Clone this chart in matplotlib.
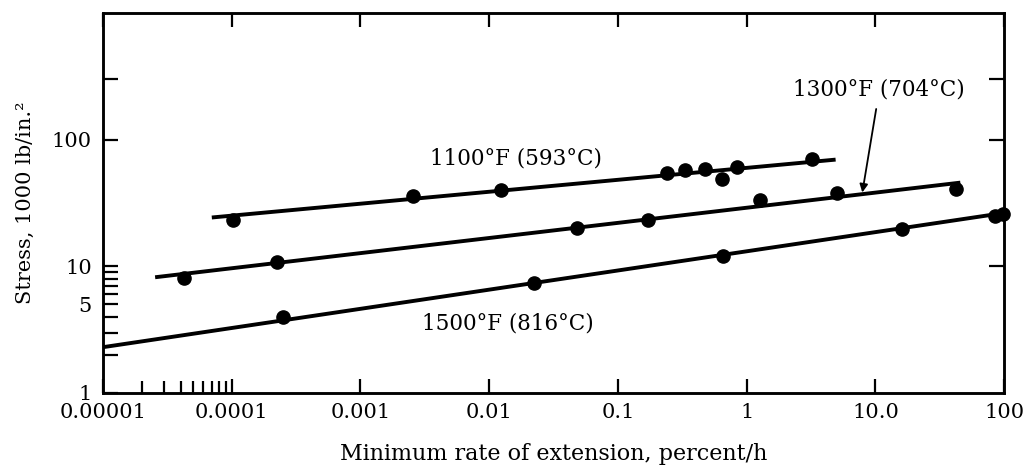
import numpy as np
import matplotlib
matplotlib.use('Agg')
import matplotlib.pyplot as plt
from matplotlib.ticker import FixedLocator, NullFormatter, NullLocator

plt.rcParams['font.family'] = ['DejaVu Serif']

# creep data (rate in percent/h, stress in 1000 lb/in.^2)
rate_1100 = [1.02e-4, 2.57e-3, 0.0124, 0.241, 0.333, 0.475, 0.645, 0.84, 3.2]
stress_1100 = [23.4, 35.6, 40.4, 55.0, 58.0, 59.0, 49.3, 61.0, 70.9]
fit_rate_1100 = [7.0e-5, 4.9]
fit_stress_1100 = [24.3, 69.6]

rate_1300 = [4.26e-5, 2.25e-4, 0.048, 0.172, 1.27, 5.05, 42.5]
stress_1300 = [8.05, 10.75, 19.9, 23.4, 33.1, 37.6, 41.1]
fit_rate_1300 = [2.54e-5, 45.6]
fit_stress_1300 = [8.2, 45.8]

rate_1500 = [2.51e-4, 0.0223, 0.656, 16.1, 85.3, 98.4]
stress_1500 = [3.97, 7.35, 12.0, 19.6, 24.8, 26.1]
fit_rate_1500 = [1e-5, 100]
fit_stress_1500 = [2.3, 26.4]

x_major = [1e-5, 1e-4, 1e-3, 1e-2, 1e-1, 1, 10, 100]
x_labels = ['0.00001', '0.0001', '0.001', '0.01', '0.1', '1', '10.0', '100']
x_minor = [2e-5, 3e-5, 4e-5, 5e-5, 6e-5, 7e-5, 8e-5, 9e-5]
y_major = [1, 10, 100, 300]
y_minor = [2, 3, 4, 5, 6, 7, 8, 9]
y_labels = {1: '1', 5: '5', 10: '10', 100: '100'}

fig = plt.figure(figsize=(10.3, 4.72), dpi=100)
ax = fig.add_axes([0.1, 0.1674, 0.875, 0.805])
ax.set_xscale('log')
ax.set_yscale('log')
ax.set_xlim(1e-5, 100)
ax.set_ylim(1, 1000)

lw = 2.8
for fx, fy, px, py in [(fit_rate_1100, fit_stress_1100, rate_1100, stress_1100),
                       (fit_rate_1300, fit_stress_1300, rate_1300, stress_1300),
                       (fit_rate_1500, fit_stress_1500, rate_1500, stress_1500)]:
    ax.plot(fx, fy, color='black', lw=lw, solid_capstyle='butt', zorder=2)
    ax.plot(px, py, 'o', color='black', markersize=9.5, zorder=3, clip_on=False)

# labels on the curves
ax.text(0.0162, 70.9, '1100°F (593°C)', fontsize=15.5, ha='center', va='center')
ax.text(0.014, 3.56, '1500°F (816°C)', fontsize=15.5, ha='center', va='center')
ax.annotate('1300°F (704°C)', xy=(7.9, 38.3), xytext=(10.7, 248),
            fontsize=15.5, ha='center', va='center',
            arrowprops=dict(arrowstyle='-|>', lw=1.3, color='black',
                            mutation_scale=12, shrinkA=4, shrinkB=0,
                            relpos=(0.49, 0)))

# ticks
ax.xaxis.set_major_locator(FixedLocator(x_major))
ax.set_xticklabels(x_labels)
ax.xaxis.set_minor_locator(FixedLocator(x_minor))
ax.xaxis.set_minor_formatter(NullFormatter())
ax.tick_params(axis='x', which='major', direction='in', top=True, bottom=True,
               length=10, width=1.6, labelsize=15, pad=7)
ax.tick_params(axis='x', which='minor', direction='in', top=False, bottom=True,
               length=9, width=1.6)

# y ticks: left has minor ticks and labels, right only a few major ticks
ax.yaxis.set_major_locator(FixedLocator(y_major + y_minor))
ax.set_yticklabels([y_labels.get(v, '') for v in y_major + y_minor])
ax.yaxis.set_minor_locator(NullLocator())
ax.tick_params(axis='y', which='major', direction='in', left=True, right=False,
               length=11, width=1.6, labelsize=15, pad=8)

ax_r = ax.twinx()
ax_r.set_yscale('log')
ax_r.set_ylim(1, 1000)
ax_r.yaxis.set_major_locator(FixedLocator([10, 100, 300]))
ax_r.yaxis.set_minor_locator(NullLocator())
ax_r.yaxis.set_major_formatter(NullFormatter())
ax_r.tick_params(axis='y', direction='in', length=11, width=1.6)

for a in (ax, ax_r):
    for sp in a.spines.values():
        sp.set_linewidth(1.8)

ax.set_xlabel('Minimum rate of extension, percent/h', fontsize=16, labelpad=15)
ax.set_ylabel('Stress, 1000 lb/in.²', fontsize=15, labelpad=12)

fig.savefig('out.png', dpi=100)
